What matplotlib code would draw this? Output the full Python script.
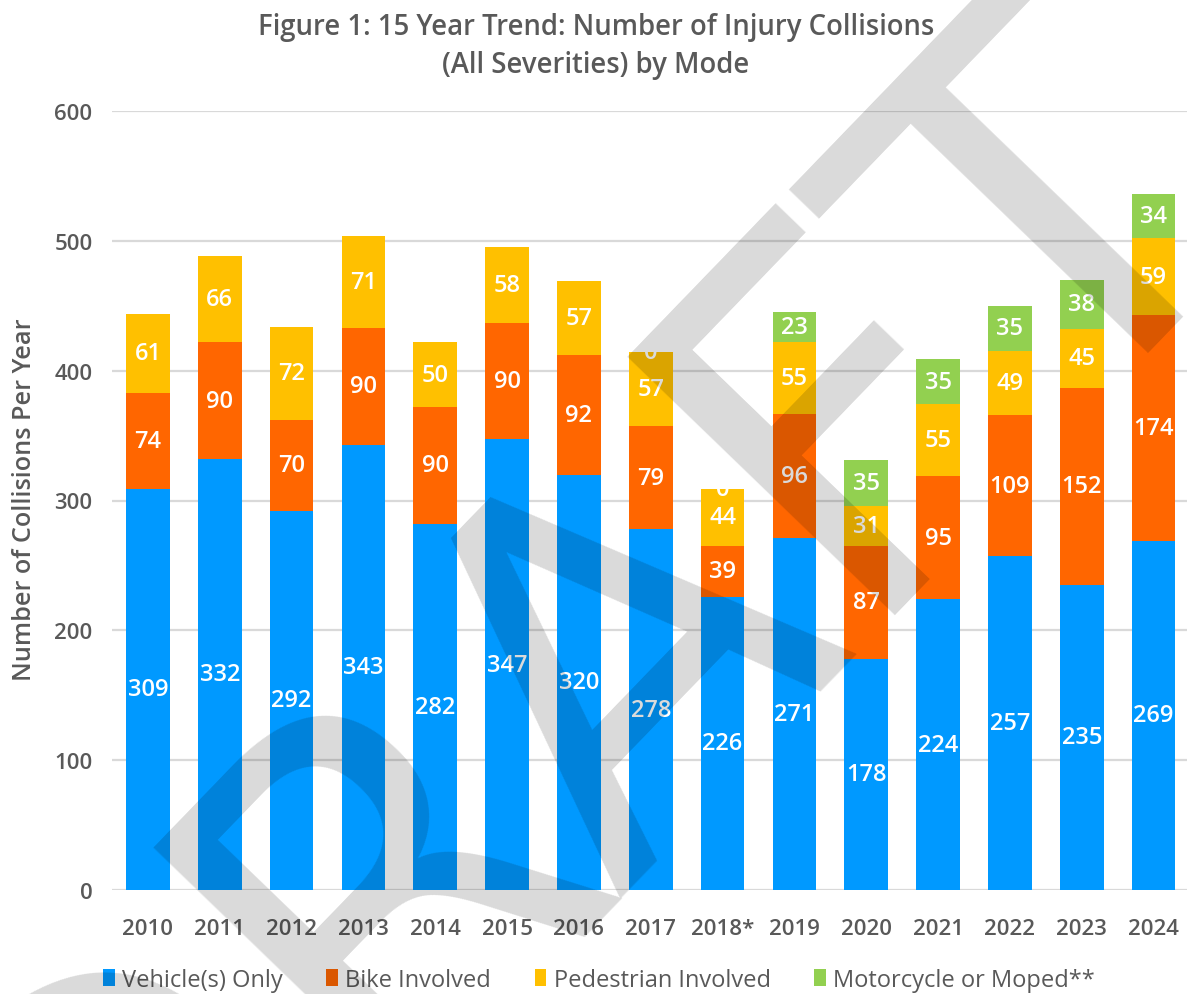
import matplotlib
matplotlib.use("Agg")
import matplotlib.pyplot as plt
from matplotlib.patches import Patch
import numpy as np

years = ["2010", "2011", "2012", "2013", "2014", "2015", "2016", "2017",
         "2018*", "2019", "2020", "2021", "2022", "2023", "2024"]
vehicle = [309, 332, 292, 343, 282, 347, 320, 278, 226, 271, 178, 224, 257, 235, 269]
bike = [74, 90, 70, 90, 90, 90, 92, 79, 39, 96, 87, 95, 109, 152, 174]
pedestrian = [61, 66, 72, 71, 50, 58, 57, 57, 44, 55, 31, 55, 49, 45, 59]
motorcycle = [None, None, None, None, None, None, None, 0, 0, 23, 35, 35, 35, 38, 34]

series_names = ["Vehicle(s) Only", "Bike Involved", "Pedestrian Involved", "Motorcycle or Moped**"]
colors = ["#0099FF", "#FF6600", "#FFC000", "#92D050"]
TXT = "#595959"
FONT = ["Open Sans", "DejaVu Sans"]

plt.rcParams["font.family"] = FONT

W, H = 1187, 995
fig = plt.figure(figsize=(W / 100, H / 100), dpi=100)
ax = fig.add_axes([112 / W, (H - 891) / H, (1189.5 - 112) / W, (891 - 112) / H])

x = np.arange(len(years))
bottom = np.zeros(len(years))
all_series = [vehicle, bike, pedestrian, motorcycle]
for vals, col, name in zip(all_series, colors, series_names):
    v = np.array([0 if a is None else a for a in vals], dtype=float)
    ax.bar(x, v, 0.61, bottom=bottom, color=col, label=name, zorder=2)
    for xi, (raw, b, h) in enumerate(zip(vals, bottom, v)):
        if raw is None:
            continue
        ax.text(xi, b + h / 2, f"{raw}", ha="center", va="center", color="white",
                fontsize=17, fontweight="semibold", zorder=3)
    bottom = bottom + v

ax.set_xlim(-0.5, 14.5)
ax.set_ylim(0, 600)
ax.set_yticks([0, 100, 200, 300, 400, 500, 600])
ax.set_xticks(x)
ax.set_xticklabels(years)
ax.yaxis.grid(True, color="#D9D9D9", linewidth=1.6, zorder=0)
ax.set_axisbelow(True)
for sp in ax.spines.values():
    sp.set_visible(False)
ax.tick_params(axis="both", length=0, labelsize=16, labelcolor=TXT)
ax.tick_params(axis="y", pad=14)
ax.tick_params(axis="x", pad=20)
for lab in ax.get_xticklabels() + ax.get_yticklabels():
    lab.set_fontweight("semibold")

fig.text(596 / W, 1 - 13 / H, "Figure 1: 15 Year Trend: Number of Injury Collisions\n(All Severities) by Mode",
         ha="center", va="top", fontsize=19.8, fontweight="semibold", color=TXT, linespacing=1.42)
fig.text(25 / W, (H - 500) / H, "Number of Collisions Per Year", rotation=90,
         ha="center", va="center", fontsize=18.2, fontweight="semibold", color=TXT)

handles = [Patch(facecolor=c, edgecolor="none") for c in colors]
fig.legend(handles, series_names, loc="center left", bbox_to_anchor=(103 / W, (H - 981) / H),
           ncol=4, frameon=False, handlelength=0.5, handleheight=0.75, handletextpad=0.3,
           columnspacing=1.85, borderpad=0, borderaxespad=0,
           prop={"family": FONT, "size": 17}, labelcolor=TXT)

# DRAFT watermark (baseline runs diagonally, text starts off-canvas at lower left)
fig.text(99 / W, (H - 1387.5) / H, "DRAFT", rotation=46, rotation_mode="anchor",
         ha="left", va="baseline", fontsize=367, color="black", alpha=0.15,
         family="DejaVu Sans", zorder=10)

fig.savefig("out.png", dpi=100)
